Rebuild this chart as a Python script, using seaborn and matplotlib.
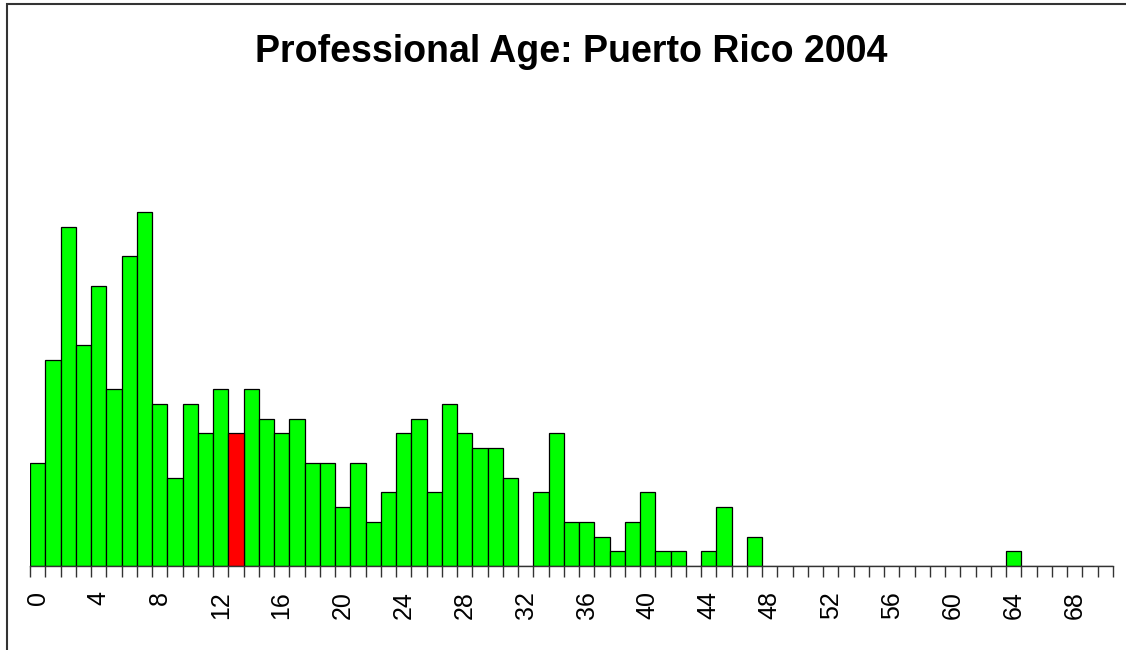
import numpy as np
import pandas as pd
import matplotlib
matplotlib.use('Agg')
import matplotlib.pyplot as plt
import matplotlib.patches as mpatches
import seaborn as sns

# %%
# Counts per professional age (years)
ages = list(range(0, 71))
counts = [7, 14, 23, 15, 19, 12, 21, 24, 11, 6,
          11, 9, 12, 9, 12, 10, 9, 10, 7, 7,
          4, 7, 3, 5, 9, 10, 5, 11, 9, 8,
          8, 6, 0, 5, 9, 3, 3, 2, 1, 3,
          5, 1, 1, 0, 1, 4, 0, 2, 0, 0,
          0, 0, 0, 0, 0, 0, 0, 0, 0, 0,
          0, 0, 0, 0, 1, 0, 0, 0, 0, 0,
          0]
highlight_age = 13
tick_labels = list(range(0, 71, 4))
title = 'Professional Age: Puerto Rico 2004'

# %%
df = pd.DataFrame({'age': ages, 'count': counts})
df['group'] = np.where(df['age'] == highlight_age, 'current', 'other')

sns.set_style('white')
plt.rcParams['font.family'] = ['Liberation Sans', 'DejaVu Sans']

fig = plt.figure(figsize=(11.26, 6.5), dpi=100)
ax = fig.add_axes([30 / 1126, 84 / 650, 1082.75 / 1126, 383.5 / 650])

sns.barplot(data=df, x='age', y='count', hue='group',
            palette={'other': '#00ff00', 'current': '#ff0000'},
            saturation=1, dodge=False, width=1, edgecolor='black',
            linewidth=0.9, legend=False, ax=ax)

ax.set_xlim(-0.5, 70.5)
ax.set_ylim(0, 26)
ax.set_xlabel('')
ax.set_ylabel('')
ax.set_yticks([])
for s in ['top', 'right', 'left']:
    ax.spines[s].set_visible(False)
ax.spines['bottom'].set_color('#333333')
ax.spines['bottom'].set_linewidth(1.0)

# ticks at bar edges, labels at bar centres
ax.set_xticks(np.arange(-0.5, 71, 1))
ax.set_xticklabels([])
ax.tick_params(axis='x', which='major', length=8, width=1, color='#333333',
               bottom=True, direction='out')
ax.set_xticks(tick_labels, minor=True)
ax.set_xticklabels([str(t) for t in tick_labels], minor=True,
                   rotation=90, fontsize=18, color='black')
ax.tick_params(axis='x', which='minor', length=0, pad=18)

fig.text(571 / 1126, 1 - 52 / 650, title, ha='center', va='center',
         fontsize=27, fontweight='bold', color='black')

# frame around the figure (cut off at right and bottom)
fig.patches.append(mpatches.Rectangle((7 / 1126, -0.05), 1.1, 1 - 4 / 650 + 0.05,
                                      transform=fig.transFigure, fill=False,
                                      edgecolor='#333333', linewidth=1.5))

fig.savefig('out.png', dpi=100)
